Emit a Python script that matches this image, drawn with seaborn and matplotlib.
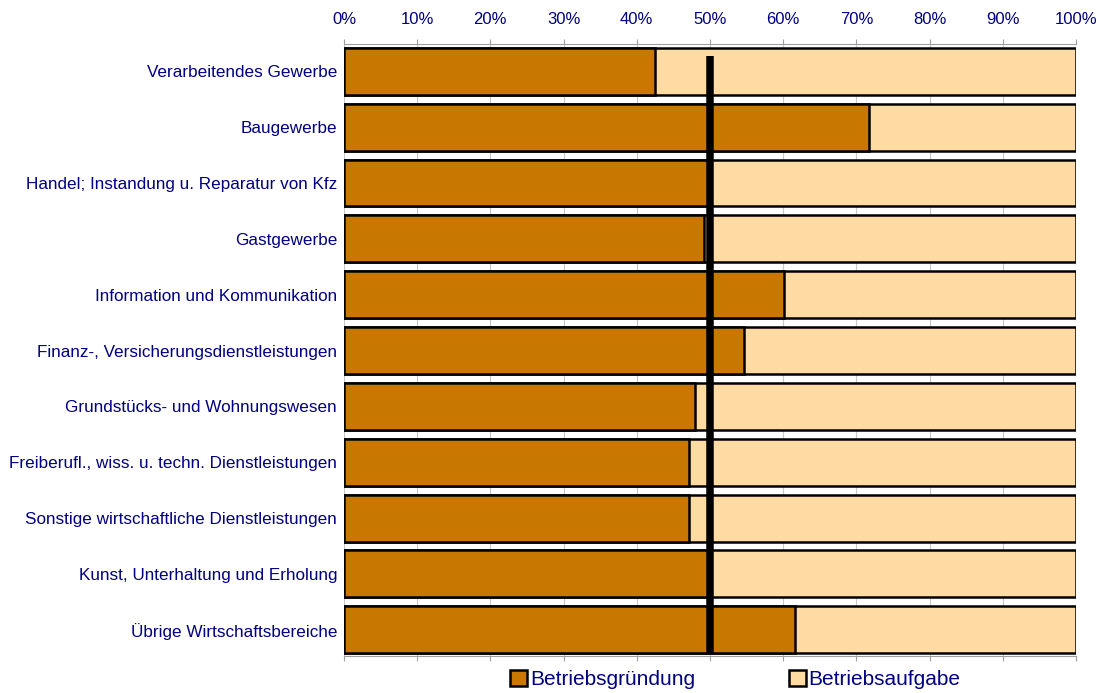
import matplotlib
matplotlib.use("Agg")
import matplotlib.pyplot as plt
import seaborn as sns
import pandas as pd
from matplotlib.patches import Patch

branchen = [
    "Verarbeitendes Gewerbe",
    "Baugewerbe",
    "Handel; Instandung u. Reparatur von Kfz",
    "Gastgewerbe",
    "Information und Kommunikation",
    "Finanz-, Versicherungsdienstleistungen",
    "Grundstücks- und Wohnungswesen",
    "Freiberufl., wiss. u. techn. Dienstleistungen",
    "Sonstige wirtschaftliche Dienstleistungen",
    "Kunst, Unterhaltung und Erholung",
    "Übrige Wirtschaftsbereiche",
]
gruendung = [42.5, 71.7, 49.7, 49.2, 60.1, 54.6, 48.0, 47.2, 47.2, 50.2, 61.6]
aufgabe = [100 - g for g in gruendung]
ticks = list(range(0, 101, 10))

braun = "#C87800"
hell = "#FFDBA4"
blau = "#000080"

df = pd.DataFrame({"Branche": branchen, "Gruendung": gruendung, "Aufgabe": aufgabe})
df["Gesamt"] = df["Gruendung"] + df["Aufgabe"]

sns.set_style("white")
plt.rcParams["font.family"] = ["Liberation Sans", "DejaVu Sans"]

fig = plt.figure(figsize=(11.01, 6.93), dpi=100)
ax = fig.add_axes([0.3124, 0.0534, 0.6649, 0.8831])

for t in ticks:
    ax.axvline(t, color="#c8c8c8", lw=0.8, zorder=0)

sns.barplot(data=df, x="Gesamt", y="Branche", orient="h", color=hell,
            edgecolor="black", linewidth=1.8, width=0.84, saturation=1, ax=ax, zorder=2)
sns.barplot(data=df, x="Gruendung", y="Branche", orient="h", color=braun,
            edgecolor="black", linewidth=1.8, width=0.84, saturation=1, ax=ax, zorder=3)

# Markierung bei 50 %
ax.vlines(50, -0.28, 10.42, color="black", lw=5.4, zorder=4)

ax.set_xlim(0, 100)
ax.set_ylim(10.47, -0.49)
ax.set_xticks(ticks)
ax.set_xticklabels([f"{t}%" for t in ticks])
ax.tick_params(axis="x", top=True, bottom=True, labeltop=True, labelbottom=False,
               length=3.6, width=0.8, color="#a0a0a0", labelsize=12, labelcolor=blau, pad=9)
ax.tick_params(axis="y", length=0, labelsize=12.3, labelcolor=blau, pad=5)
ax.set_xlabel("")
ax.set_ylabel("")

for s in ["left", "right"]:
    ax.spines[s].set_visible(False)
for s in ["top", "bottom"]:
    ax.spines[s].set_color("#a0a0a0")
    ax.spines[s].set_linewidth(0.8)

handles = [Patch(facecolor=braun, edgecolor="black", lw=1.8, label="Betriebsgründung"),
           Patch(facecolor=hell, edgecolor="black", lw=1.8, label="Betriebsaufgabe")]
fig.legend(handles=handles, loc="center", bbox_to_anchor=(0.668, 0.019), ncol=2,
           frameon=False, fontsize=15, labelcolor=blau, handlelength=0.8, handleheight=0.8,
           handletextpad=0.15, columnspacing=4.5)

fig.savefig("out.png", dpi=100)
